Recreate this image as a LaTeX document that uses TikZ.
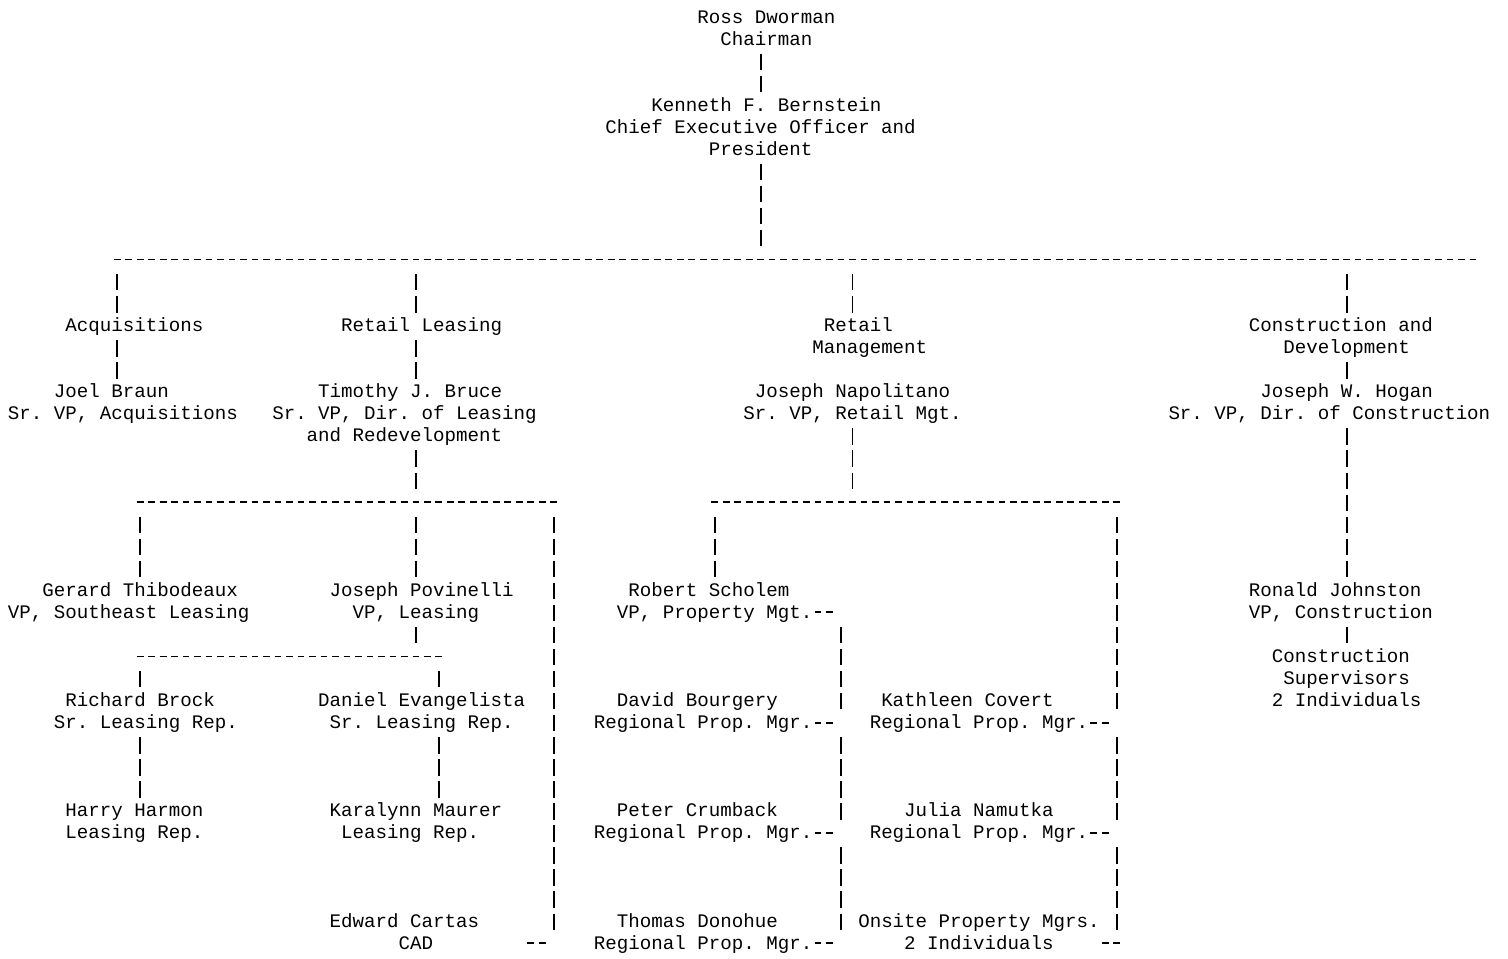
\documentclass[tikz,border=0pt]{standalone}
\usepackage{fontspec}
\newfontfamily\orgmono{Liberation Mono}
\newlength{\colw}
\setlength{\colw}{5.745pt}
\newcommand{\orgfont}{\orgmono\fontsize{9.575pt}{11.025pt}\selectfont\frenchspacing}
\newcommand{\tline}[2]{\hspace*{#1\colw}#2\strut}

\begin{document}
\begin{tikzpicture}[x=5.745pt, y=-11.025pt,
  lbl/.style={anchor=north west, inner sep=0pt, outer sep=0pt, align=left, font=\orgfont},
  rail/.style={anchor=north west, inner sep=0pt, outer sep=0pt, minimum height=11.025pt, minimum width=#1*\colw},
  vbar/.style={line width=0.9pt, dash pattern=on 8.2pt off 2.825pt, dash phase=10.075pt},
  hbar/.style={line width=0.9pt, dash pattern=on 3.4pt off 2.345pt, dash phase=4.5725pt}]
\useasboundingbox (-0.6963,-0.3433) rectangle (130.548,43.104);

% top
\node[lbl] (ross) at (60,0) {\tline{0}{Ross Dworman}\\\tline{2}{Chairman}};
\node[lbl] (ceo) at (52,4) {\tline{4}{Kenneth F. Bernstein}\\\tline{0}{Chief Executive Officer and}\\\tline{9}{President}};
\node[rail=119] (bus1) at (9,11) {};

% departments
\node[lbl] (acq) at (5,14) {\tline{0}{Acquisitions}};
\node[lbl] (rleas) at (29,14) {\tline{0}{Retail Leasing}};
\node[lbl] (rmgt) at (70,14) {\tline{1}{Retail}\\\tline{0}{Management}};
\node[lbl] (cdev) at (108,14) {\tline{0}{Construction and}\\\tline{3}{Development}};
\node[lbl] (braun) at (0,17) {\tline{4}{Joel Braun}\\\tline{0}{Sr. VP, Acquisitions}};
\node[lbl] (bruce) at (23,17) {\tline{4}{Timothy J. Bruce}\\\tline{0}{Sr. VP, Dir. of Leasing}\\\tline{3}{and Redevelopment}};
\node[lbl] (napol) at (64,17) {\tline{1}{Joseph Napolitano}\\\tline{0}{Sr. VP, Retail Mgt.}};
\node[lbl] (hogan) at (101,17) {\tline{8}{Joseph W. Hogan}\\\tline{0}{Sr. VP, Dir. of Construction}};
\node[rail=37] (bus2) at (11,22) {};
\node[rail=36] (bus3) at (61,22) {};

% vice presidents
\node[lbl] (thib) at (0,26) {\tline{3}{Gerard Thibodeaux}\\\tline{0}{VP, Southeast Leasing}};
\node[lbl] (povin) at (28,26) {\tline{0}{Joseph Povinelli}\\\tline{2}{VP, Leasing}};
\node[lbl] (scholem) at (53,26) {\tline{1}{Robert Scholem}\\\tline{0}{VP, Property Mgt.}};
\node[rail=2] (s27) at (70,27) {};
\node[lbl] (johnston) at (108,26) {\tline{0}{Ronald Johnston}\\\tline{0}{VP, Construction}};
\node[rail=27] (bus4) at (11,29) {};
\node[lbl] (csup) at (110,29) {\tline{0}{Construction}\\\tline{1}{Supervisors}\\\tline{0}{2 Individuals}};

% staff
\node[lbl] (brock) at (4,31) {\tline{1}{Richard Brock}\\\tline{0}{Sr. Leasing Rep.}};
\node[lbl] (evang) at (27,31) {\tline{0}{Daniel Evangelista}\\\tline{1}{Sr. Leasing Rep.}};
\node[lbl] (bourg) at (51,31) {\tline{2}{David Bourgery}\\\tline{0}{Regional Prop. Mgr.}};
\node[lbl] (covert) at (75,31) {\tline{1}{Kathleen Covert}\\\tline{0}{Regional Prop. Mgr.}};
\node[rail=2] (s32a) at (70,32) {};
\node[rail=2] (s32b) at (94,32) {};
\node[lbl] (harmon) at (5,36) {\tline{0}{Harry Harmon}\\\tline{0}{Leasing Rep.}};
\node[lbl] (maurer) at (28,36) {\tline{0}{Karalynn Maurer}\\\tline{1}{Leasing Rep.}};
\node[lbl] (crumb) at (51,36) {\tline{2}{Peter Crumback}\\\tline{0}{Regional Prop. Mgr.}};
\node[lbl] (namut) at (75,36) {\tline{3}{Julia Namutka}\\\tline{0}{Regional Prop. Mgr.}};
\node[rail=2] (s37a) at (70,37) {};
\node[rail=2] (s37b) at (94,37) {};
\node[lbl] (cartas) at (28,41) {\tline{0}{Edward Cartas}\\\tline{6}{CAD}};
\node[lbl] (donoh) at (51,41) {\tline{2}{Thomas Donohue}\\\tline{0}{Regional Prop. Mgr.}};
\node[lbl] (onsite) at (74,41) {\tline{0}{Onsite Property Mgrs.}\\\tline{4}{2 Individuals}};
\node[rail=2] (s42a) at (45,42) {};
\node[rail=2] (s42b) at (70,42) {};
\node[rail=2] (s42c) at (95,42) {};

% dashed rows
\foreach \rl in {bus1,bus2,bus3,bus4,s27,s32a,s32b,s37a,s37b,s42a,s42b,s42c}
  \draw[hbar] ([yshift=0.8pt]\rl.west) -- ([yshift=0.8pt]\rl.east);

% pipes
\draw[vbar] (ross.south -| 65.5,0) -- (ceo.north -| 65.5,0);
\draw[vbar] (ceo.south -| 65.5,0) -- (bus1.north -| 65.5,0);
\draw[vbar] (bus1.south -| 9.5,0) -- (acq.north -| 9.5,0);
\draw[vbar] (acq.south -| 9.5,0) -- (braun.north -| 9.5,0);
\draw[vbar] (bus1.south -| 35.5,0) -- (rleas.north -| 35.5,0);
\draw[vbar] (rleas.south -| 35.5,0) -- (bruce.north -| 35.5,0);
\draw[vbar] (bruce.south -| 35.5,0) -- (bus2.north -| 35.5,0);
\draw[vbar] (bus1.south -| 73.5,0) -- (rmgt.north -| 73.5,0);
\draw[vbar] (napol.south -| 73.5,0) -- (bus3.north -| 73.5,0);
\draw[vbar] (bus1.south -| 116.5,0) -- (cdev.north -| 116.5,0);
\draw[vbar] (cdev.south -| 116.5,0) -- (hogan.north -| 116.5,0);
\draw[vbar] (hogan.south -| 116.5,0) -- (johnston.north -| 116.5,0);
\draw[vbar] (johnston.south -| 116.5,0) -- (csup.north -| 116.5,0);
\draw[vbar] (bus2.south -| 11.5,0) -- (thib.north -| 11.5,0);
\draw[vbar] (bus2.south -| 35.5,0) -- (povin.north -| 35.5,0);
\draw[vbar] (povin.south -| 35.5,0) -- (bus4.north -| 35.5,0);
\draw[vbar] (bus2.south -| 47.5,0) -- (s42a.north -| 47.5,0);
\draw[vbar] (bus3.south -| 61.5,0) -- (scholem.north -| 61.5,0);
\draw[vbar] (s27.south -| 72.5,0) -- (s32a.north -| 72.5,0);
\draw[vbar] (s32a.south -| 72.5,0) -- (s37a.north -| 72.5,0);
\draw[vbar] (s37a.south -| 72.5,0) -- (s42b.north -| 72.5,0);
\draw[vbar] (bus3.south -| 96.5,0) -- (s32b.north -| 96.5,0);
\draw[vbar] (s32b.south -| 96.5,0) -- (s37b.north -| 96.5,0);
\draw[vbar] (s37b.south -| 96.5,0) -- (s42c.north -| 96.5,0);
\draw[vbar] (bus4.south -| 11.5,0) -- (brock.north -| 11.5,0);
\draw[vbar] (bus4.south -| 37.5,0) -- (evang.north -| 37.5,0);
\draw[vbar] (brock.south -| 11.5,0) -- (harmon.north -| 11.5,0);
\draw[vbar] (evang.south -| 37.5,0) -- (maurer.north -| 37.5,0);
\end{tikzpicture}
\end{document}
